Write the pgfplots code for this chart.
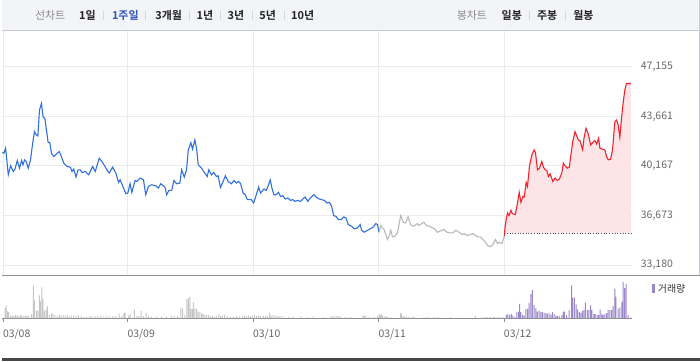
\documentclass[border=0pt]{standalone}
\usepackage{pgfplots}
\pgfplotsset{compat=1.18}
\usepackage{fontspec}
\setmainfont{Noto Sans CJK KR}[BoldFont={Noto Sans CJK KR Bold}]
\definecolor{bluel}{HTML}{2F6FDE}
\definecolor{redl}{HTML}{F2232E}
\definecolor{grayl}{HTML}{B8B8B8}
\definecolor{pinkf}{HTML}{FDE5E7}
\definecolor{volg}{HTML}{C6C6C6}
\definecolor{volp}{HTML}{9A86C8}
\definecolor{gridc}{HTML}{EBEBEB}
\definecolor{lab}{HTML}{666666}
\definecolor{barbg}{HTML}{F3F4F7}
\definecolor{barline}{HTML}{C8CACF}
\definecolor{selblue}{HTML}{2F52C0}
\definecolor{axisc}{HTML}{8C8E93}
\definecolor{txtg}{HTML}{8A8A8A}
\definecolor{txtb}{HTML}{222222}
\definecolor{sepc}{HTML}{D5D6DA}
\begin{document}
\begin{tikzpicture}
\begin{scope}[x=1pt,y=1pt]
\path (0,0) rectangle (700,362);
% top bar
\fill[barbg] (0,331.5) rectangle (700,362);
\draw[barline, line width=1pt] (0,331.5) -- (700,331.5);
\draw[barline, line width=1pt] (699.5,362) -- (699.5,86);
\draw[axisc, line width=1pt] (0,86) -- (700,86);
\fill[black!72] (0,0) rectangle (700,2.6);
\begin{scope}[every node/.style={font=\fontsize{11}{13}\selectfont, inner sep=0pt}]
\node[text=txtg] at (48,347) {선차트};
\node[text=txtb] at (85.5,347) {\bfseries 1일};
\node[text=selblue] at (123.5,347) {\bfseries 1주일};
\node[text=txtb] at (167,347) {\bfseries 3개월};
\node[text=txtb] at (203.5,347) {\bfseries 1년};
\node[text=txtb] at (234.5,347) {\bfseries 3년};
\node[text=txtb] at (266.5,347) {\bfseries 5년};
\node[text=txtb] at (301.5,347) {\bfseries 10년};
\node[text=txtg] at (471.5,347) {봉차트};
\node[text=txtb] at (511.5,347) {\bfseries 일봉};
\node[text=txtb] at (547,347) {\bfseries 주봉};
\node[text=txtb] at (583.5,347) {\bfseries 월봉};
\end{scope}
\foreach \sx in {101,144,187.7,219.3,251,283.3,529.3,565}
  \draw[sepc, line width=0.8pt] (\sx,342.5) -- (\sx,351.5);
\node[anchor=west, inner sep=0pt, font=\fontsize{10}{12}\selectfont, text=black!80] at (652.5,73) {\textcolor{volp}{\rule[-0.5pt]{3pt}{8.5pt}}\hspace{2.5pt}거래량};
\end{scope}

% main price axis
\begin{axis}[
  at={(0pt,86pt)}, anchor=south west, scale only axis,
  width=632pt, height=245pt,
  xmin=0, xmax=632, ymin=32455, ymax=49654,
  scaled y ticks=false, scaled x ticks=false,
  axis line style={draw=none},
  xtick={1,126,252,378,504}, xticklabels={},
  ytick={33180,36673,40167,43661,47155},
  yticklabels={{33,180},{36,673},{40,167},{43,661},{47,155}},
  yticklabel pos=right,
  yticklabel style={anchor=west, inner sep=0pt, xshift=9pt, font=\fontsize{10.5}{12}\selectfont, text=lab},
  major tick length=0pt,
  grid=major, major grid style={draw=gridc, line width=1pt},
  clip=false,
]
\addplot[fill=pinkf, draw=none] coordinates {
(504,35452)(504.7,35803)(506,36435)(507.3,36857)(508.7,36667)(510.7,37039)(512,36807)(515,36737)(516.7,37320)(519,38302)(520.7,37601)(522.7,38022)(524,37980)(526,39005)(527.3,38724)(529.3,40177)(531.7,40949)(534,41300)(535.3,41110)(537.3,39896)(539.3,40016)(541.7,40479)(543.3,40086)(545,39896)(546.7,39847)(548.3,39424)(550,39615)(552.7,39075)(555,39313)(557.3,39145)(559.3,39243)(561.7,39664)(563.3,40366)(565,40177)(567.3,40016)(569.3,40086)(570.7,40830)(572.7,41883)(575,42585)(576.7,42283)(578.3,42002)(580,41953)(582.7,41300)(584,42121)(586,42823)(588.3,42423)(590.7,41651)(592.7,41812)(595,41953)(596.7,41721)(598.7,42121)(600,41420)(602.7,41349)(605,41300)(606.7,40830)(608.3,40598)(610.7,40647)(612.7,41300)(615,43287)(616.7,43406)(618.3,43055)(620,42192)(621.7,43525)(623.3,44578)(625,45512)(626.7,45982)(631,45982)(631,35452)
} -- cycle;
\addplot[color=redl, line width=1.1pt] coordinates {
(504,35214)(504.7,35803)(506,36435)(507.3,36857)(508.7,36667)(510.7,37039)(512,36807)(515,36737)(516.7,37320)(519,38302)(520.7,37601)(522.7,38022)(524,37980)(526,39005)(527.3,38724)(529.3,40177)(531.7,40949)(534,41300)(535.3,41110)(537.3,39896)(539.3,40016)(541.7,40479)(543.3,40086)(545,39896)(546.7,39847)(548.3,39424)(550,39615)(552.7,39075)(555,39313)(557.3,39145)(559.3,39243)(561.7,39664)(563.3,40366)(565,40177)(567.3,40016)(569.3,40086)(570.7,40830)(572.7,41883)(575,42585)(576.7,42283)(578.3,42002)(580,41953)(582.7,41300)(584,42121)(586,42823)(588.3,42423)(590.7,41651)(592.7,41812)(595,41953)(596.7,41721)(598.7,42121)(600,41420)(602.7,41349)(605,41300)(606.7,40830)(608.3,40598)(610.7,40647)(612.7,41300)(615,43287)(616.7,43406)(618.3,43055)(620,42192)(621.7,43525)(623.3,44578)(625,45512)(626.7,45982)(631,45982)
};
\addplot[draw=black!70, line width=0.7pt, dotted] coordinates {(504,35452)(631,35452)};
\addplot[color=bluel, line width=1.1pt] coordinates {
(0,41110)(1.7,41070)(3.3,41420)(6,39545)(8.3,40177)(11,39777)(12.7,39945)(15,40549)(17.3,40016)(19.3,40549)(20.7,40247)(22.3,40598)(24,40479)(26,40016)(28.3,40598)(30.7,41883)(32.3,42585)(34,42353)(35.7,42283)(37.3,44108)(39.3,44578)(41,43596)(42.7,43525)(44.3,42704)(46,41812)(47.7,41812)(49.3,41068)(51.7,40830)(55,41068)(57.3,41181)(59.3,40830)(61.7,40366)(65,40128)(68.3,40086)(70,39777)(71.7,39945)(74,39384)(76,39896)(78.3,39896)(80,39706)(83.3,39777)(86.7,39545)(90.7,40128)(93.3,39777)(97.3,40717)(100,40479)(102.7,40177)(105,39896)(107.3,39664)(110.7,40086)(114,39664)(116.7,39005)(118.3,39194)(121.7,38611)(124,38211)(126,38260)(128.3,38913)(130,38302)(133.3,39145)(135,39075)(138.3,39313)(141.7,39194)(144,38141)(146.7,38724)(150,38843)(154,38773)(156.7,38611)(159,38913)(163.3,38682)(165,38141)(167.3,38443)(170,38443)(172.3,39145)(175,38913)(178.3,38963)(180,39896)(182.7,39384)(185,39896)(186.7,41300)(189.3,41812)(191,41349)(193.3,42002)(195,41420)(196.7,40247)(200,40016)(203.3,39664)(205.7,39424)(207.3,39896)(210,39545)(212.3,39706)(215,39424)(216.7,39475)(219,38651)(221.7,39075)(224,39475)(226.7,39075)(230,38913)(232.7,39145)(235,38963)(237.3,39075)(239.3,38913)(241.7,38260)(244,38141)(246,37790)(250,37790)(252.3,37558)(254.3,37980)(257.3,38682)(259.3,38260)(262.7,38541)(265,38443)(266.7,38724)(269,39194)(270.7,38611)(272.7,38141)(275,38141)(277.3,38302)(279.3,38022)(281.7,38071)(284,37839)(286.7,37909)(289.3,37741)(291.7,37790)(294,37671)(296.7,37741)(299.3,37671)(301.7,37839)(304,37980)(306.7,37671)(309.3,37909)(312.7,38141)(315,37980)(318.3,37839)(320.7,37790)(323.3,37741)(326,37558)(328.3,37601)(330.7,37320)(332.7,36667)(335,36618)(337.3,36386)(340,36386)(342.7,36576)(345,36506)(347.3,36035)(350.7,35916)(353.3,35734)(356.7,35804)(359.3,36035)(360.7,35635)(363.3,35495)(366.7,35635)(369.3,35734)(372.7,35874)(375,36105)(376.7,36035)(378.3,35495)
};
\addplot[color=grayl, line width=1.1pt] coordinates {
(378.3,35495)(380,35965)(383.3,35684)(386.7,34982)(388.3,35214)(390,35635)(391.7,35172)(394,35214)(396.7,35452)(398.3,36035)(400,36667)(402.7,36197)(405,36155)(407.3,36576)(410,36035)(412.7,35916)(416.7,36105)(418.3,35965)(421,36105)(423.3,36197)(426,35965)(429.3,35916)(431.7,35804)(434.3,35734)(436.7,35495)(439.3,35565)(441.7,35635)(443.3,35684)(446.7,35495)(450,35452)(452.7,35452)(455,35635)(457.3,35565)(459.3,35452)(461.7,35333)(464,35403)(466.7,35263)(470,35333)(472.7,35403)(475,35263)(477.3,35172)(480,35172)(482.7,34982)(485,34795)(487.3,34561)(490,34471)(492.7,34631)(495,34982)(497.3,34701)(499.3,34795)(501.7,34701)(504,35214)
};
\end{axis}

% volume axis
\begin{axis}[
  at={(0pt,43pt)}, anchor=south west, scale only axis,
  width=632pt, height=42pt,
  xmin=0, xmax=632, ymin=0, ymax=42,
  scaled y ticks=false, scaled x ticks=false,
  axis x line=bottom, axis y line=none,
  axis line style={draw=axisc, line width=1pt, -},
  xtick={1,126,252,378,504}, xticklabels={03/08,03/09,03/10,03/11,03/12},
  xtick align=outside, major tick length=4pt,
  tick style={draw=axisc, line width=1pt},
  xticklabel style={anchor=north west, inner sep=0pt, xshift=-0.5pt, yshift=-6.5pt, font=\fontsize{10.5}{12}\selectfont, text=lab},
  ybar, bar width=1pt,
  clip=false,
]
\addplot[fill=volg, draw=none, bar shift=0pt] coordinates {
(2.7,10)(3.7,13)(5.3,7)(6.3,6)(8.3,2.5)(10,2)(11.7,2.5)(13.3,3)(15,2.5)(16.7,2)(18.3,3)(20,2.5)(21.7,2)(23.3,2.5)(25,2)(26.7,2.5)(29.3,4)(31.3,33)(32.3,18)(34.3,7.5)(35.7,7.5)(37.3,23)(38.3,17.5)(39.7,31)(40.7,20)(42.3,7.5)(44,8.5)(45.3,12)(47.3,3)(49.3,5)(50.7,4)(52.7,3)(55,2)(57.3,3.5)(59,2.5)(61,3)(63,2.5)(65,3)(67,2)(69.3,2.5)(71.7,2.5)(74,2)(76.3,3)(79,2)(82,1.5)(85,1.5)(88,2)(90,1.5)(93,2)(96,2)(99,2)(102,1.5)(105,2)(108,1.5)(111,2)(114,2)(117.3,4.5)(120,2.5)(122,5)(123.3,5.5)(126.7,2.5)(128.3,4)(132.7,8.5)(135,2)(137,2)(139.3,7)(141.7,2)(144.3,5.5)(147,2)(150,1.5)(155,1.5)(160,1.5)(165,1.5)(170,2)(173,1.5)(176,2)(179.3,11)(181,9.5)(183.3,3.5)(185.3,19.5)(186.7,20)(188.3,21.5)(189.3,9.5)(190.7,9.5)(191.7,16)(193.3,10)(195,10)(196.7,6.5)(198.3,6)(200,5)(201.7,4)(203.3,3.5)(205,3)(207,3)(209,2)(211,2)(213,1.5)(215,2)(217.3,4.5)(219,2.5)(221,2)(223.3,3.5)(226,2)(229,1.5)(232,1.5)(235,2)(238,1.5)(241,2)(243,2.5)(245,2)(247,2.5)(249,2)(251,2)(253,2.5)(255,2)(257,2.5)(259,2)(262,2.5)(264,2)(266,2.5)(268.3,5.5)(270,2.5)(272,3)(274,2.5)(276,2)(278,2)(280,2)(283,1.5)(288,1.5)(292,1.5)(300,1.5)(306,1)(312,1.5)(322,1)(330,2)(332,2)(334,2)(336,2)(338,2)(340,1.5)(345,1)(350,1)(362,2.5)(363.5,2.5)(365,2.5)(368.3,1)(373.3,1.7)(376.7,2)(378.3,4.3)(379.3,2.7)(380.7,4)(381.7,2.7)(383.3,2)(385,1.7)(386.7,1.7)(390,1)(400,5)(401,4.3)(402.7,2)(404.3,1.7)(406,1.7)(408.3,1.3)(411.7,1.3)(413.3,1.3)(423.3,1)(426.7,1.3)(433.3,1)(436.7,1)(450,1)(463.3,0.7)(475,2)(482.7,1)(485,1)(487.3,1)(490,1)(492.7,1)(494,1)(496.7,1)(499.3,1.7)(502.7,1.7)
};
\addplot[fill=volp, draw=none, bar shift=0pt] coordinates {
(506,3.3)(507.7,4.3)(509.3,3.3)(511,4.3)(512.7,2.7)(514.7,1.3)(516.7,6)(518.3,6.7)(519.3,14.3)(520.7,6)(522.3,3.3)(524,2.7)(525.7,9.3)(527.3,9.3)(529,15.3)(530.7,24.3)(532.3,28.3)(534,13.3)(535.7,10)(537.3,6.7)(539,7.7)(540.7,6)(542.3,6)(544,5.3)(545.7,5)(547.3,4.3)(549,5.3)(550.7,3.3)(552.3,6)(554,4.3)(555.7,2.7)(557.3,2)(559,2.7)(561.7,3)(563.3,6.7)(564.3,6.7)(566.7,3)(569,8)(571.7,33)(572.7,20.7)(574.3,20.7)(576,14)(577.7,9)(579.3,6.3)(581,5)(582.3,7.3)(584,8.3)(585.3,15.7)(587.3,8)(589,8.3)(590.7,13)(592,8)(594,4)(595.3,4)(597.3,3)(598.7,3)(600.3,9)(602,4.7)(603.3,3)(605,4)(606.7,5)(608.3,8)(610,8)(611.7,8)(613.3,12.3)(615,29.7)(616,21.7)(618.3,9.7)(620,10.7)(622,16.3)(623.3,36.3)(624.7,30.3)(626.3,34.3)(628.3,3)(630.7,0.7)
};
\end{axis}
\end{tikzpicture}
\end{document}
